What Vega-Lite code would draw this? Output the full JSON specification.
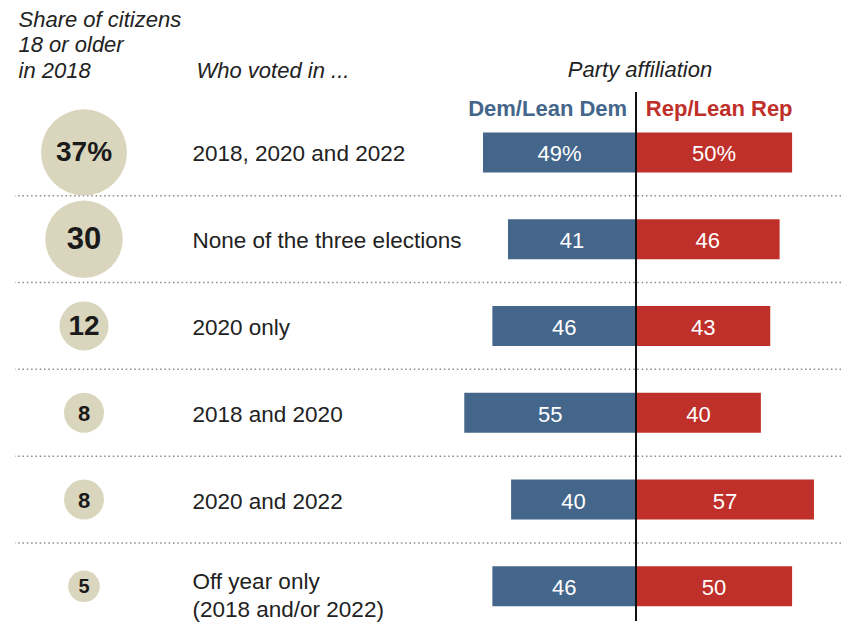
{
  "$schema": "https://vega.github.io/schema/vega-lite/v6.json",
  "autosize": {"type": "pad"},
  "padding": {"left": 14, "top": 8, "right": 0, "bottom": 0},
  "background": "white",
  "config": {"view": {"stroke": null}, "font": "Liberation Sans"},
  "data": {
    "values": [
      {"group": "2018, 2020 and 2022", "share": 37, "share_label": "37%", "dem": 49, "rep": 50, "dem_label": "49%", "rep_label": "50%"},
      {"group": "None of the three elections", "share": 30, "share_label": "30", "dem": 41, "rep": 46, "dem_label": "41", "rep_label": "46"},
      {"group": "2020 only", "share": 12, "share_label": "12", "dem": 46, "rep": 43, "dem_label": "46", "rep_label": "43"},
      {"group": "2018 and 2020", "share": 8, "share_label": "8", "dem": 55, "rep": 40, "dem_label": "55", "rep_label": "40"},
      {"group": "2020 and 2022", "share": 8, "share_label": "8", "dem": 40, "rep": 57, "dem_label": "40", "rep_label": "57"},
      {"group": "Off year only|(2018 and/or 2022)", "share": 5, "share_label": "5", "dem": 46, "rep": 50, "dem_label": "46", "rep_label": "50"}
    ]
  },
  "spacing": 0,
  "align": "none",
  "bounds": "flush",
  "hconcat": [
    {
      "width": 138,
      "height": 529,
      "layer": [
        {
          "transform": [{"filter": {"not": {"field": "group", "equal": "Off year only|(2018 and/or 2022)"}}}],
          "mark": {"type": "rule", "stroke": "#8a8a8a", "strokeWidth": 1.5, "strokeDash": [1.5, 2.8]},
          "encoding": {
            "y": {"field": "group", "type": "nominal", "sort": null, "bandPosition": 1}
          }
        },
        {
          "mark": {"type": "circle", "color": "#dad6be", "opacity": 1},
          "encoding": {
            "y": {
              "field": "group", "type": "nominal", "sort": null,
              "scale": {"range": [17, 537.7], "paddingInner": 0, "paddingOuter": 0},
              "axis": {
                "labels": false, "ticks": false, "domain": false, "grid": false,
                "title": ["Share of citizens", "18 or older", "in 2018"],
                "titleAngle": 0, "titleAlign": "left", "titleBaseline": "alphabetic",
                "titleX": 3, "titleY": -66, "titleLineHeight": 25.5,
                "titleFontStyle": "italic", "titleFontWeight": "normal", "titleFontSize": 22, "titleColor": "#222222"
              }
            },
            "size": {"field": "share", "type": "quantitative", "scale": {"domain": [0, 37], "range": [0, 7400], "zero": true}, "legend": null}
          }
        },
        {
          "mark": {"type": "text", "fontWeight": "bold", "color": "#1a1a1a", "baseline": "middle", "dy": 1},
          "encoding": {
            "y": {"field": "group", "type": "nominal", "sort": null},
            "text": {"field": "share_label"},
            "size": {"field": "share", "type": "quantitative", "scale": {"type": "threshold", "domain": [6, 10, 20, 33], "range": [20, 22, 28, 31, 28]}, "legend": null}
          }
        }
      ],
      "resolve": {"scale": {"size": "independent"}}
    },
    {
      "width": 688,
      "height": 529,
      "layer": [
        {
          "transform": [{"filter": {"not": {"field": "group", "equal": "Off year only|(2018 and/or 2022)"}}}],
          "mark": {"type": "rule", "stroke": "#8a8a8a", "strokeWidth": 1.5, "strokeDash": [1.5, 2.8]},
          "encoding": {
            "y": {"field": "group", "type": "nominal", "sort": null, "bandPosition": 1}
          }
        },
        {
          "mark": {"type": "bar", "color": "#44668a", "height": 40},
          "encoding": {
            "y": {
              "field": "group", "type": "nominal", "sort": null,
              "scale": {"range": [17, 537.7], "paddingInner": 0, "paddingOuter": 0},
              "axis": {
                "orient": "left", "labelAlign": "left", "labelPadding": -39, "labelFontSize": 22.5,
                "labelColor": "#222222", "labelLimit": 400, "labelExpr": "split(datum.label, '|')",
                "labelLineHeight": 27.7, "labelBound": false, "labelOverlap": false,
                "labelOffset": {"condition": {"test": "indexof(datum.value, '|') >= 0", "value": -4}, "value": 2},
                "ticks": false, "tickSize": 0, "domain": false, "grid": false,
                "title": "Who voted in ...", "titleAngle": 0, "titleAlign": "left", "titleBaseline": "alphabetic",
                "titleX": 43, "titleY": -15, "titleFontStyle": "italic", "titleFontWeight": "normal",
                "titleFontSize": 22, "titleColor": "#222222"
              }
            },
            "x": {"field": "dem", "type": "quantitative", "scale": {"domain": [-65.66, 154.7], "reverse": true, "nice": false, "zero": false}, "axis": null},
            "x2": {"datum": 0}
          }
        },
        {
          "mark": {"type": "bar", "color": "#c0302a", "height": 40},
          "encoding": {
            "y": {"field": "group", "type": "nominal", "sort": null},
            "x": {
              "field": "rep", "type": "quantitative",
              "scale": {"domain": [-154.7, 65.66], "nice": false, "zero": false},
              "axis": {
                "orient": "top", "values": [-3, 3],
                "labelExpr": "datum.value < 0 ? 'Dem/Lean Dem' : 'Rep/Lean Rep'",
                "labelAlign": {"condition": {"test": "datum.value < 0", "value": "right"}, "value": "left"},
                "labelColor": {"condition": {"test": "datum.value < 0", "value": "#44668a"}, "value": "#c0302a"},
                "labelFontWeight": "bold", "labelFontSize": 22, "labelBaseline": "alphabetic",
                "labelPadding": -23.7, "labelFlush": false, "labelOverlap": false, "labelBound": false,
                "ticks": false, "tickSize": 0, "domain": false, "grid": false,
                "title": "Party affiliation", "titleFontStyle": "italic", "titleFontWeight": "normal",
                "titleFontSize": 22, "titleColor": "#222222", "titleX": 486.5, "titleY": -15.7,
                "titleAlign": "center", "titleBaseline": "alphabetic"
              }
            },
            "x2": {"datum": 0}
          }
        },
        {
          "mark": {"type": "text", "color": "white", "fontSize": 22, "baseline": "middle", "dy": 2},
          "encoding": {
            "y": {"field": "group", "type": "nominal", "sort": null},
            "x": {"field": "dem", "type": "quantitative", "scale": {"domain": [-131.32, 309.4], "reverse": true, "nice": false, "zero": false}, "axis": null},
            "text": {"field": "dem_label"}
          }
        },
        {
          "mark": {"type": "text", "color": "white", "fontSize": 22, "baseline": "middle", "dy": 2},
          "encoding": {
            "y": {"field": "group", "type": "nominal", "sort": null},
            "x": {"field": "rep", "type": "quantitative", "scale": {"domain": [-309.4, 131.32], "nice": false, "zero": false}, "axis": null},
            "text": {"field": "rep_label"}
          }
        },
        {
          "mark": {"type": "rule", "color": "#111111", "strokeWidth": 1.2},
          "encoding": {
            "x": {"datum": 0, "type": "quantitative", "scale": {"domain": [-154.7, 65.66], "nice": false, "zero": false}, "axis": null}
          }
        }
      ],
      "resolve": {"scale": {"x": "independent"}}
    }
  ]
}
